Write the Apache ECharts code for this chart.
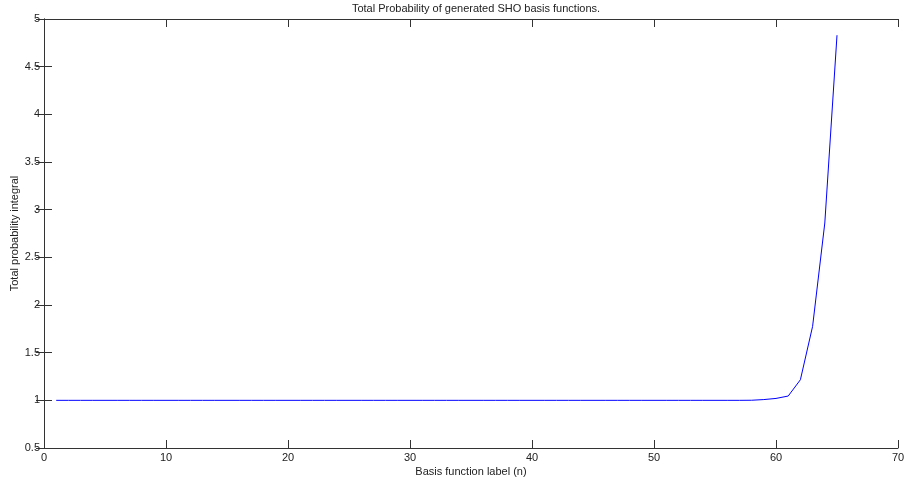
<!DOCTYPE html>
<html>
<head>
<meta charset="utf-8">
<script src="https://cdn.jsdelivr.net/npm/echarts@6/dist/echarts.min.js"></script>
<style>
html,body{margin:0;padding:0;background:#fff;}
#c{width:904px;height:483px;}
</style>
</head>
<body>
<div id="c"></div>
<script>
// Basis function labels n = 1..65
const basisLabels = [1,2,3,4,5,6,7,8,9,10,11,12,13,14,15,16,17,18,19,20,21,22,23,24,25,26,27,28,29,30,31,32,33,34,35,36,37,38,39,40,41,42,43,44,45,46,47,48,49,50,51,52,53,54,55,56,57,58,59,60,61,62,63,64,65];
// Total probability integral for each n
const totalProb = [1,1,1,1,1,1,1,1,1,1,1,1,1,1,1,1,1,1,1,1,1,1,1,1,1,1,1,1,1,1,1,1,1,1,1,1,1,1,1,1,1,1,1,1,1,1,1,1,1,1,1,1,1,1,1,1,1,1.001,1.008,1.02,1.045,1.216,1.776,2.86,4.83];
const xTicks = [0,10,20,30,40,50,60,70];
const yTicks = [0.5,1,1.5,2,2.5,3,3.5,4,4.5,5];

const font = 'Liberation Sans, Arial, sans-serif';
const txt = '#222';
const seriesData = basisLabels.map((n, i) => [n, totalProb[i]]);

const chart = echarts.init(document.getElementById('c'), null, {renderer: 'canvas'});
const tickStyle = {show: true, inside: true, length: 8, lineStyle: {color: '#333', width: 1}};
const lineStyle = {show: true, lineStyle: {color: '#333', width: 1}};
chart.setOption({
  animation: false,
  backgroundColor: '#fff',
  title: {
    text: 'Total Probability of generated SHO basis functions.',
    left: 471, top: -2, textAlign: 'center',
    textStyle: {fontFamily: font, fontSize: 11, fontWeight: 'normal', color: txt}
  },
  grid: {left: 44, right: 6, top: 19, bottom: 35, containLabel: false, outerBoundsMode: 'none'},
  xAxis: [{
    type: 'value', min: xTicks[0], max: xTicks[xTicks.length-1], interval: 10,
    position: 'bottom',
    name: 'Basis function label (n)', nameLocation: 'middle', nameGap: 18, nameMoveOverlap: false,
    nameTextStyle: {fontFamily: font, fontSize: 11, color: txt, verticalAlign: 'top'},
    axisLine: lineStyle, axisTick: tickStyle,
    axisLabel: {fontFamily: font, fontSize: 11, color: txt, margin: 4},
    splitLine: {show: false}
  }, {
    type: 'value', min: 0, max: 70, interval: 10, position: 'top',
    axisLine: lineStyle, axisTick: tickStyle, axisLabel: {show: false}, splitLine: {show: false}
  }],
  yAxis: [{
    type: 'value', min: yTicks[0], max: yTicks[yTicks.length-1], interval: 0.5,
    position: 'left',
    name: 'Total probability integral', nameLocation: 'middle', nameGap: 24, nameRotate: 90, nameMoveOverlap: false,
    nameTextStyle: {fontFamily: font, fontSize: 11, color: txt},
    axisLine: lineStyle, axisTick: tickStyle,
    axisLabel: {fontFamily: font, fontSize: 11, color: txt, margin: 4},
    splitLine: {show: false}
  }, {
    type: 'value', min: 0.5, max: 5, interval: 0.5, position: 'right',
    axisLine: lineStyle, axisTick: tickStyle, axisLabel: {show: false}, splitLine: {show: false}
  }],
  series: [{
    type: 'line', data: seriesData, xAxisIndex: 0, yAxisIndex: 0,
    symbol: 'none', lineStyle: {color: '#0000ff', width: 1}, itemStyle: {color: '#0000ff'}
  }]
});
</script>
</body>
</html>
